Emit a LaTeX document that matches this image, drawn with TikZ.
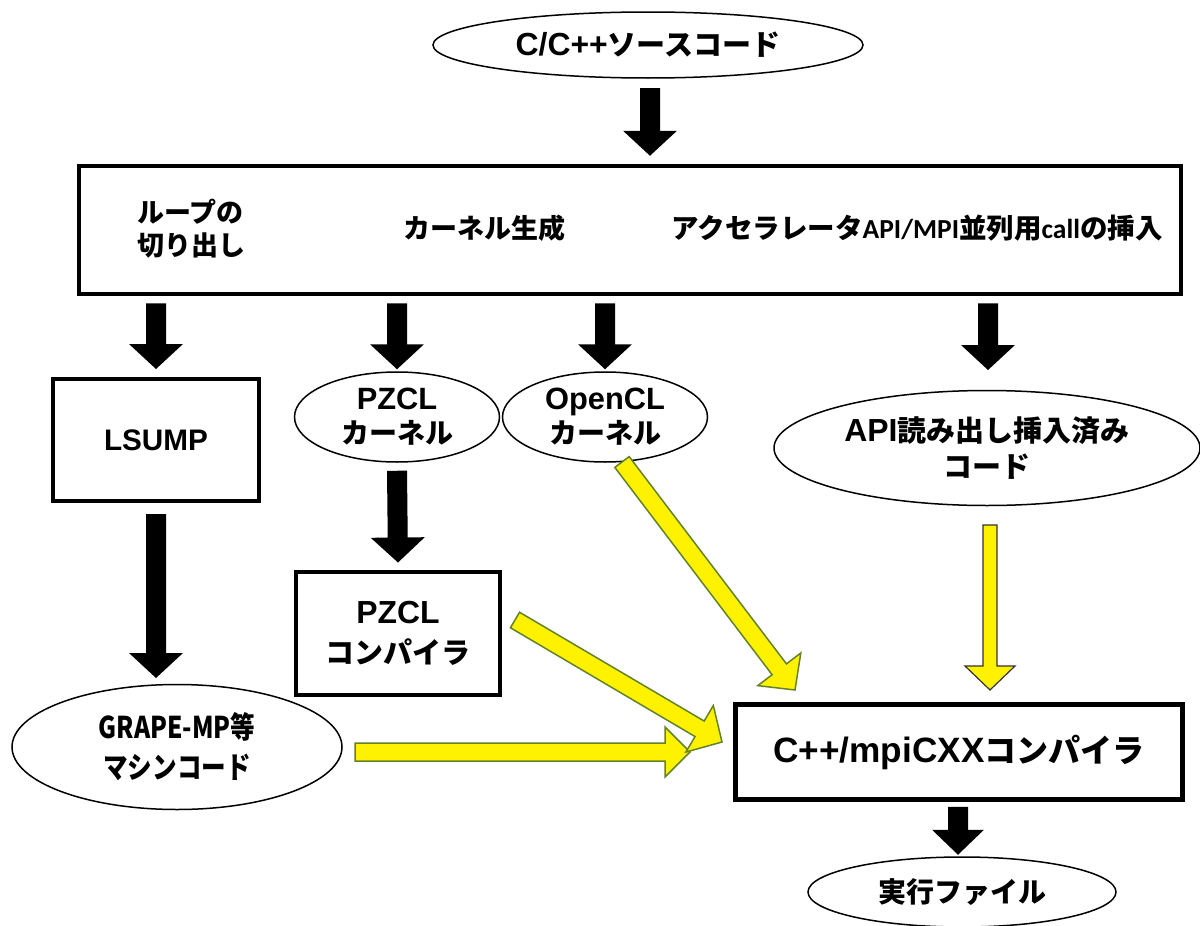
\documentclass[tikz,border=0pt]{standalone}
\usepackage{fontspec}
\usepackage{graphicx}
\usetikzlibrary{shapes.geometric,calc}
\newfontfamily\jp{Noto Sans CJK JP}
\newfontfamily\jpcond{Noto Sans CJK JP}[FakeStretch=0.82]
\newfontfamily\latf{Liberation Sans}[Scale=1.1]
\newfontfamily\calfont{Carlito}
\definecolor{olivegreen}{RGB}{100,130,40}
\newcommand\barrow[6]{%
  \path ($(#3)!#6!(#2)$) coordinate (hb);
  \draw[#1] ($(#2)!#4!90:(#3)$) -- ($(hb)!#4!90:(#3)$) -- ($(hb)!#5!90:(#3)$) -- (#3)
    -- ($(hb)!#5!-90:(#3)$) -- ($(hb)!#4!-90:(#3)$) -- ($(#2)!#4!-90:(#3)$) -- cycle;}
\begin{document}
\begin{tikzpicture}[x=1pt,y=-1pt,
  txt/.style={inner sep=0pt, align=center, font=\jp\bfseries\fontsize{28}{34}\selectfont},
  ell/.style={txt, draw, line width=1.5pt, ellipse},
  box/.style={txt, draw, line width=4.5pt, rectangle},
  blk/.style={fill=black, draw=none},
  yel/.style={fill=yellow, draw=olivegreen, line width=1.5pt, line join=miter},
  yelk/.style={fill=yellow, draw=black!80, line width=1.2pt}]
\useasboundingbox (0,0) rectangle (1200,926);

% nodes
\node[ell, minimum width=430pt, minimum height=66pt, font=\jp\bfseries\fontsize{29}{34}\selectfont] (src) at (648,45)
  {{\latf C/C++}ソースコード};
\node[box, minimum width=1102pt, minimum height=128pt] (top) at (630,230) {};
\node[txt, align=left, anchor=west, font=\jp\bfseries\fontsize{27}{33}\selectfont] (t1) at (137,229) {ループの\\切り出し};
\node[txt, font=\jp\bfseries\fontsize{27}{33}\selectfont] (t2) at (484,228) {カーネル生成};
\node[txt, font=\jp\bfseries\fontsize{27.5}{33}\selectfont] (t3) at (917,228) {アクセラレータ{\calfont API/MPI}並列用{\calfont call}の挿入};

\node[box, line width=4pt, minimum width=206pt, minimum height=122pt, font=\jp\bfseries\fontsize{27}{33}\selectfont] (lsump) at (156,440) {{\latf LSUMP}};
\node[ell, minimum width=205pt, minimum height=90pt] (pzk) at (397,417) {{\latf PZCL}\\カーネル};
\node[ell, minimum width=205pt, minimum height=90pt] (ock) at (605,417) {{\latf OpenCL}\\カーネル};
\node[ell, minimum width=426pt, minimum height=115pt, font=\jp\bfseries\fontsize{29}{36}\selectfont] (api) at (987,448) {{\latf API}読み出し挿入済み\\コード};
\node[box, line width=4pt, minimum width=204pt, minimum height=123pt, font=\jp\bfseries\fontsize{29}{40}\selectfont] (pzc) at (398,633) {{\latf PZCL}\\コンパイラ};
\node[ell, minimum width=330pt, minimum height=125pt, font=\jpcond\bfseries\fontsize{30}{40}\selectfont] (grape) at (177,747) {GRAPE-MP等\\マシンコード};
\node[box, minimum width=447pt, minimum height=95pt, font=\jp\bfseries\fontsize{32}{36}\selectfont] (cpp) at (959,752) {{\latf C++/mpiCXX}コンパイラ};
\node[ell, minimum width=308pt, minimum height=70pt, font=\jp\bfseries\fontsize{28}{34}\selectfont] (exe) at (962,892) {実行ファイル};

% arrow end points
\coordinate (a1s) at (650,88);
\coordinate (a1e) at (a1s |- top.north);
\coordinate (a1e) at ([yshift=8pt]a1e);
\coordinate (a2s) at ([yshift=-7pt]top.south -| lsump.north);
\coordinate (a2e) at ([yshift=8pt]lsump.north);
\coordinate (a3s) at ([yshift=-7pt]top.south -| pzk.north);
\coordinate (a3e) at ([yshift=2pt]pzk.north);
\coordinate (a4s) at ([yshift=-7pt]top.south -| ock.north);
\coordinate (a4e) at ([yshift=2pt]ock.north);
\coordinate (a5s) at ([xshift=1pt,yshift=-7pt]top.south -| api.north);
\coordinate (a5e) at (988,370);
\coordinate (a6s) at ([yshift=-11pt]lsump.south);
\coordinate (a6e) at (lsump.south |- 0,678);
\coordinate (a7s) at ([yshift=-8pt]pzk.south);
\coordinate (a7e) at ([yshift=7pt]pzc.north);
\coordinate (a8s) at ([xshift=-1pt,yshift=-5pt]cpp.south);
\coordinate (a8e) at ([xshift=-1pt,yshift=-53pt]cpp.south);

\barrow{blk}{a1s}{a1e}{10pt}{27pt}{25pt}
\barrow{blk}{a2s}{a2e}{10pt}{27pt}{25pt}
\barrow{blk}{a3s}{a3e}{10pt}{27pt}{25pt}
\barrow{blk}{a4s}{a4e}{10pt}{27pt}{25pt}
\barrow{blk}{a5s}{a5e}{10pt}{27pt}{25pt}
\barrow{blk}{a6s}{a6e}{10pt}{27pt}{25pt}
\barrow{blk}{a7s}{a7e}{10pt}{27pt}{25pt}
\barrow{blk}{a8s}{a8e}{10pt}{26pt}{25pt}

% yellow arrows
\coordinate (y1s) at (355,752);
\coordinate (y1e) at (690,752);
\coordinate (y2s) at (515,620);
\coordinate (y2e) at (722,742);
\coordinate (y3s) at (622,462);
\coordinate (y3e) at (795,690);
\coordinate (y4s) at (990,525);
\coordinate (y4e) at (990,690);
\barrow{yel}{y1s}{y1e}{9pt}{25pt}{25pt}
\barrow{yel}{y2s}{y2e}{9pt}{27pt}{26pt}
\barrow{yel}{y3s}{y3e}{9pt}{27pt}{26pt}
\barrow{yelk}{y4s}{y4e}{7pt}{25pt}{24pt}
\end{tikzpicture}
\end{document}
